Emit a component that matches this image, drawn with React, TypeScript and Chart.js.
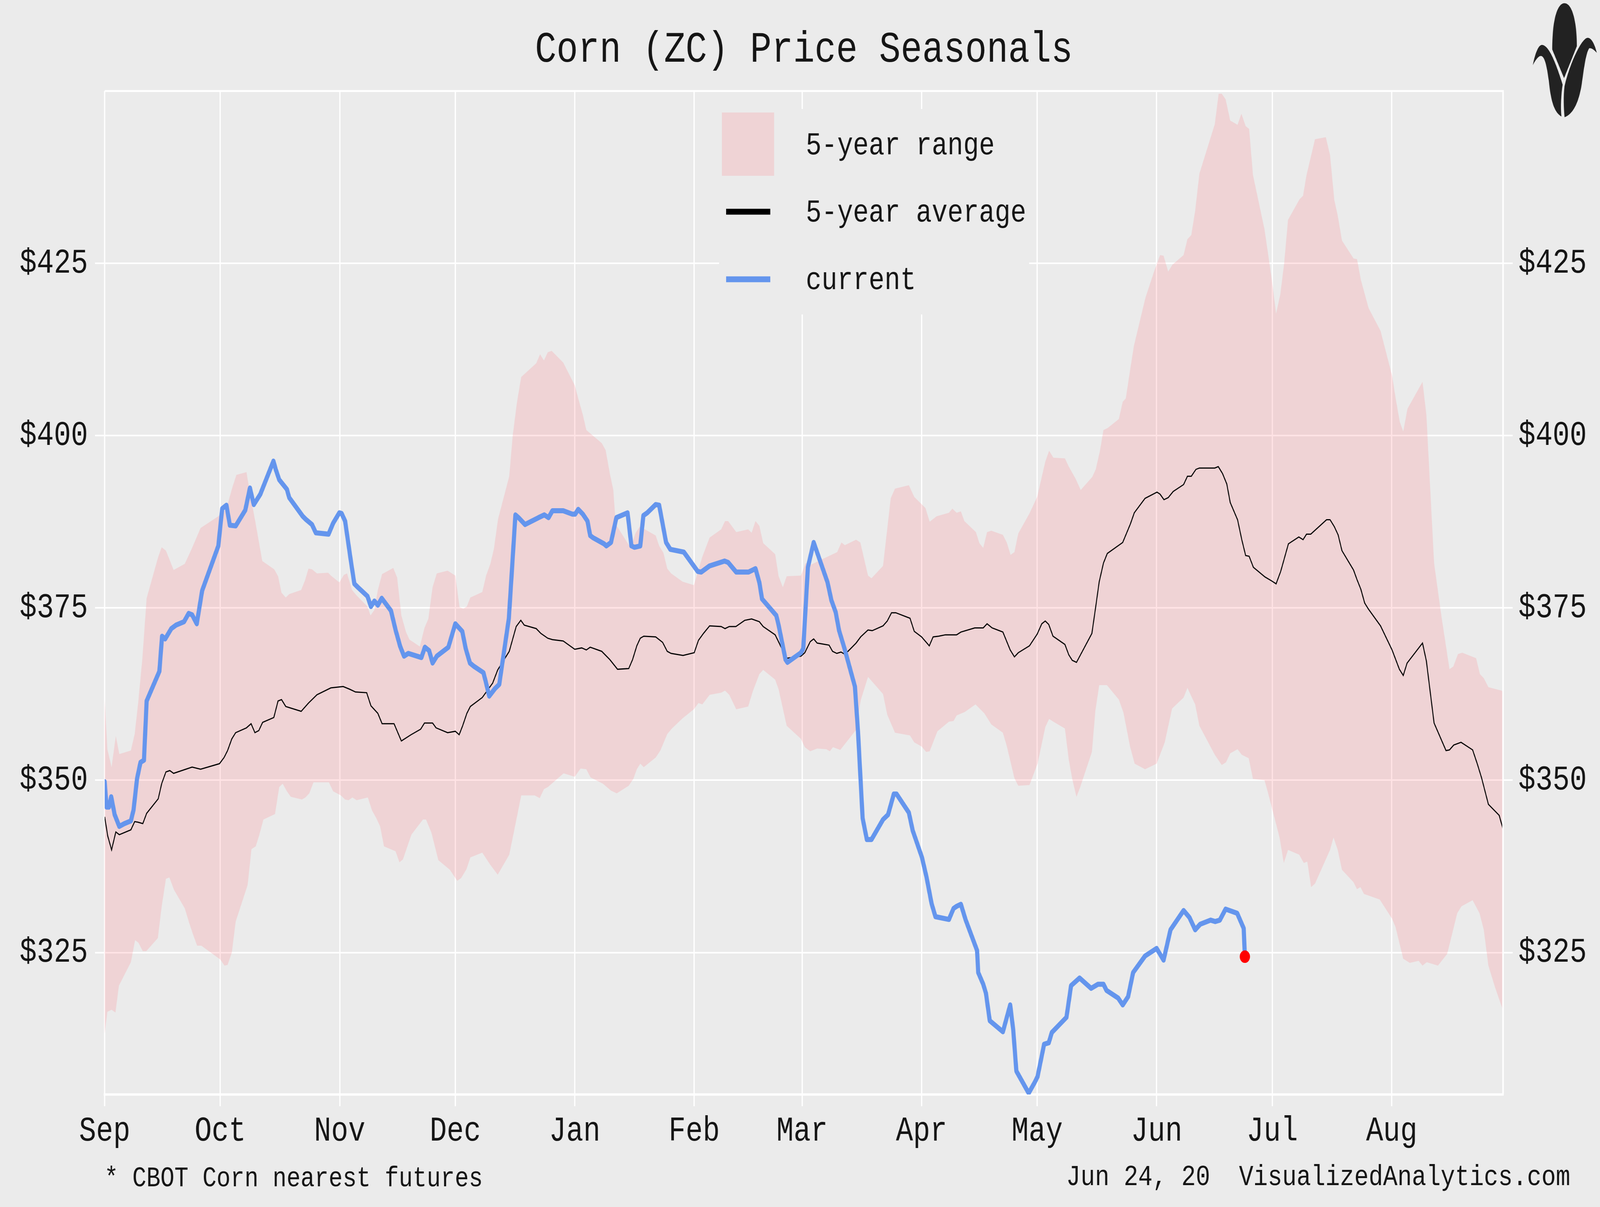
import React, { useEffect, useRef } from 'react';
import { Chart, registerables } from 'chart.js';

Chart.register(...registerables);

const W = 5000;
const H = 3090;
const FONT = "'Liberation Mono', 'Courier New', monospace";
const BG = '#ebebeb';
const BAND = 'rgba(255,115,125,0.2)';
const BLUE = '#6495ed';
const TEXT = '#151515';

const TITLE = 'Corn (ZC) Price Seasonals';
const FOOT_LEFT = '* CBOT Corn nearest futures';
const FOOT_RIGHT = 'Jun 24, 20  VisualizedAnalytics.com';
const LEGEND_LABELS = ['5-year range', '5-year average', 'current'];

// x axis: day of season (Sep 1 = 0)
const monthTicks = [0, 30, 61, 91, 122, 153, 181, 212, 242, 273, 303, 334];
const monthLabels = ['Sep', 'Oct', 'Nov', 'Dec', 'Jan', 'Feb', 'Mar', 'Apr', 'May', 'Jun', 'Jul', 'Aug'];
const xMin = 0;
const xMax = 362.9;

const yTicks = [325, 350, 375, 400, 425];
const yMin = 304.4;
const yMax = 450;

// [day, price]
const currentPoints: [number, number][] = [
  [0, 349.8], [0.5, 346.1], [1.1, 346.1], [1.7, 347.6], [2.6, 345.0], [3.8, 343.3], [5.1, 343.7], [6.8, 344.1],
  [7.5, 345.7], [8.4, 350.2], [9.3, 352.6], [10.2, 352.9], [10.9, 361.5], [14.2, 365.8], [14.9, 370.9], [15.7, 370.5],
  [17.3, 372.0], [18.5, 372.5], [20.6, 373.0], [21.8, 374.2], [22.7, 374.0], [23.9, 372.7], [25.3, 377.5], [29.5, 384.0],
  [30.5, 389.4], [31.6, 389.9], [32.5, 387.0], [34.0, 386.9], [36.5, 389.2], [37.7, 392.4], [38.7, 390.0], [40.4, 391.5],
  [43.8, 396.3], [44.4, 395.1], [45.3, 393.6], [47.3, 392.2], [47.9, 391.0], [51.4, 388.3], [52.3, 387.8], [53.8, 387.1],
  [54.8, 385.9], [58.1, 385.7], [59.3, 387.3], [60.9, 388.8], [61.5, 388.7], [62.4, 387.6], [63.9, 381.8], [64.8, 378.5],
  [65.7, 378.0], [68.2, 376.7], [69.1, 375.2], [70.0, 376.0], [70.9, 375.4], [71.9, 376.4], [74.3, 374.6], [75.5, 371.8],
  [76.7, 369.4], [77.7, 368.0], [78.8, 368.4], [82.2, 367.8], [83.1, 369.3], [84.2, 368.8], [85.1, 367.0], [86.2, 368.0],
  [89.2, 369.3], [91.0, 372.7], [92.8, 371.6], [93.7, 369.1], [94.8, 367.0], [95.9, 366.5], [98.3, 365.6], [98.9, 364.3],
  [99.8, 362.2], [101.3, 363.3], [102.4, 363.9], [104.9, 373.5], [106.6, 388.5], [107.4, 388.1], [109.1, 387.1], [112.6, 388.1],
  [114.1, 388.5], [115.2, 388.1], [116.2, 389.1], [119.0, 389.1], [121.4, 388.6], [122.1, 388.6], [122.9, 389.3], [124.1, 388.6],
  [125.3, 387.6], [126.0, 385.5], [126.7, 385.2], [129.6, 384.3], [130.2, 384.0], [131.4, 384.5], [132.8, 388.1], [135.7, 388.8],
  [136.7, 384.0], [137.5, 383.8], [139.0, 384.0], [139.8, 388.4], [140.8, 388.8], [143.0, 390.0], [143.9, 389.9], [145.7, 384.5],
  [146.8, 383.5], [150.3, 383.1], [153.9, 380.3], [154.8, 380.2], [157.0, 381.1], [160.9, 381.8], [161.8, 381.6], [163.9, 380.2],
  [167.1, 380.2], [168.9, 380.7], [169.9, 378.7], [170.6, 376.3], [174.3, 373.9], [174.9, 372.5], [176.7, 367.5], [177.2, 367.1],
  [180.7, 368.5], [181.3, 369.1], [182.5, 380.9], [184.0, 384.5], [187.6, 378.7], [188.6, 376.1], [189.7, 374.4], [190.6, 371.7],
  [191.9, 369.3], [194.7, 363.6], [195.5, 357.1], [196.7, 344.5], [197.8, 341.4], [199.0, 341.4], [202.0, 344.3], [203.3, 345.0],
  [204.8, 348.0], [205.5, 348.0], [208.7, 345.3], [209.7, 342.7], [212.1, 338.8], [213.3, 335.9], [214.6, 332.1], [215.6, 330.2],
  [219.1, 329.8], [220.3, 331.4], [221.1, 331.7], [222.2, 332.0], [223.4, 329.8], [226.4, 325.3], [226.7, 322.1], [228.0, 320.4],
  [228.7, 319.1], [229.7, 315.1], [233.1, 313.5], [235.0, 317.4], [235.8, 313.7], [236.6, 307.8], [239.8, 304.6], [241.4, 306.2],
  [242.1, 307.0], [243.8, 311.7], [245.0, 311.9], [245.8, 313.4], [249.6, 315.6], [250.8, 320.2], [253.0, 321.3], [256.0, 319.8],
  [257.8, 320.4], [259.2, 320.4], [260.0, 319.5], [263.0, 318.4], [264.2, 317.4], [265.6, 318.6], [266.9, 322.1], [270.0, 324.5],
  [273.0, 325.6], [274.8, 323.9], [276.6, 328.3], [280.0, 331.1], [281.5, 330.1], [283.0, 328.3], [284.3, 329.1], [287.0, 329.7],
  [288.2, 329.5], [289.4, 329.7], [290.9, 331.3], [293.9, 330.7], [295.6, 328.5], [295.9, 324.4],
];

const averagePoints: [number, number][] = [
  [0, 344.7], [0.8, 341.9], [1.8, 339.9], [2.9, 342.5], [3.8, 342.1], [6.8, 342.8], [7.8, 344.0], [8.7, 343.9],
  [9.9, 343.7], [10.9, 345.2], [13.9, 347.3], [14.8, 349.5], [15.9, 351.2], [16.9, 351.4], [17.9, 351.0], [22.7, 351.9],
  [24.9, 351.6], [29.8, 352.4], [31.0, 353.3], [31.9, 354.3], [33.0, 356.0], [34.0, 356.9], [36.8, 357.6], [38.0, 358.2],
  [39.0, 356.9], [40.0, 357.2], [41.0, 358.4], [43.9, 359.1], [45.0, 361.5], [45.9, 361.7], [47.0, 360.7], [51.0, 360.0],
  [52.9, 361.2], [55.1, 362.4], [58.7, 363.4], [61.9, 363.6], [63.6, 363.2], [65.1, 362.8], [68.0, 362.7], [69.1, 360.8],
  [70.9, 359.7], [72.0, 358.2], [75.1, 358.2], [77.0, 355.7], [79.5, 356.6], [82.0, 357.4], [83.0, 358.3], [85.1, 358.3],
  [86.0, 357.6], [89.0, 356.9], [91.0, 357.1], [92.0, 356.6], [92.9, 357.9], [94.0, 359.7], [94.9, 360.7], [98.0, 362.0],
  [100.7, 364.1], [102.0, 366.0], [105.0, 368.7], [106.8, 372.3], [108.0, 373.2], [108.9, 372.5], [112.0, 372.0], [113.2, 371.3],
  [115.0, 370.6], [116.2, 370.4], [119.0, 370.2], [122.0, 369.0], [123.8, 369.2], [125.0, 368.9], [126.0, 369.3], [129.0, 368.7],
  [131.1, 367.5], [133.1, 366.1], [136.0, 366.2], [137.0, 367.5], [138.1, 369.5], [139.0, 370.6], [139.9, 370.9], [143.0, 370.8],
  [144.8, 370.0], [146.0, 368.7], [147.0, 368.4], [150.1, 368.1], [153.0, 368.5], [154.1, 370.3], [155.4, 371.3], [157.0, 372.4],
  [160.0, 372.3], [161.0, 372.0], [162.1, 372.3], [163.8, 372.3], [166.1, 373.2], [167.9, 373.4], [169.9, 373.0], [170.9, 372.3],
  [174.0, 371.1], [175.4, 369.5], [177.0, 367.7], [180.7, 368.0], [181.7, 368.5], [183.1, 370.1], [184.0, 370.5], [184.9, 369.9],
  [188.0, 369.6], [188.9, 368.7], [190.0, 368.4], [191.1, 368.6], [192.0, 368.3], [192.9, 368.7], [195.0, 369.9], [196.2, 370.8],
  [198.1, 371.8], [199.2, 371.7], [202.0, 372.4], [203.1, 373.1], [204.2, 374.3], [205.3, 374.3], [209.0, 373.5], [210.1, 371.6],
  [212.0, 370.8], [214.0, 369.5], [215.0, 370.8], [216.4, 370.9], [218.2, 371.1], [221.1, 371.1], [222.2, 371.5], [225.8, 372.1],
  [228.0, 372.1], [229.0, 372.7], [230.3, 372.1], [233.1, 371.5], [235.0, 368.9], [236.1, 367.9], [237.1, 368.5], [240.0, 369.5],
  [242.0, 371.2], [243.2, 372.7], [244.1, 373.1], [245.0, 372.6], [246.1, 370.9], [249.2, 369.7], [250.2, 368.2], [251.1, 367.4],
  [252.2, 367.1], [256.2, 371.3], [257.2, 375.2], [258.1, 378.8], [259.2, 381.5], [260.2, 382.9], [264.2, 384.5], [266.2, 387.2],
  [267.2, 388.8], [270.0, 390.9], [273.1, 391.8], [273.9, 391.5], [274.9, 390.7], [276.0, 391.0], [277.3, 391.9], [280.0, 392.9],
  [281.0, 394.1], [282.0, 394.1], [283.2, 395.1], [284.1, 395.3], [288.1, 395.3], [289.0, 395.5], [290.1, 394.5], [291.2, 393.0],
  [292.1, 390.3], [294.0, 387.8], [295.1, 384.9], [296.1, 382.6], [297.0, 382.5], [298.1, 380.9], [301.1, 379.5], [302.9, 378.9],
  [304.0, 378.5], [305.2, 380.3], [307.2, 384.3], [309.9, 385.3], [311.0, 384.9], [311.9, 385.7], [313.0, 385.7], [317.1, 387.8],
  [318.0, 387.8], [319.1, 386.8], [320.1, 385.6], [321.1, 383.3], [324.1, 380.5], [325.0, 379.1], [326.0, 377.7], [327.0, 375.7],
  [328.0, 374.8], [331.1, 372.4], [334.1, 368.9], [336.0, 366.1], [337.0, 365.2], [338.0, 367.0], [342.0, 369.9], [343.0, 367.3],
  [344.0, 362.8], [345.0, 358.3], [348.1, 354.3], [349.0, 354.4], [350.1, 355.1], [352.0, 355.5], [355.0, 354.4], [356.2, 352.4],
  [357.3, 350.4], [359.1, 346.5], [361.9, 344.9], [362.9, 342.9],
];

const rangeHighPoints: [number, number][] = [
  [0, 361.8], [0.7, 354.5], [1.8, 351.9], [2.9, 356.4], [3.8, 353.8], [6.8, 354.3], [7.8, 356.7], [8.7, 361.2],
  [9.8, 367.7], [10.9, 376.4], [13.9, 382.4], [14.8, 383.8], [15.9, 383.3], [17.9, 380.5], [20.8, 381.4], [22.7, 383.7],
  [24.9, 386.6], [29.5, 388.3], [31.6, 389.4], [33.1, 392.4], [34.2, 394.3], [36.8, 394.7], [37.7, 391.7], [39.1, 387.5],
  [40.9, 381.8], [44.0, 380.6], [45.0, 379.6], [45.9, 377.2], [47.0, 376.5], [47.9, 377.0], [51.0, 377.6], [52.0, 379.0],
  [52.9, 380.7], [53.8, 380.6], [55.1, 380.0], [58.0, 380.1], [58.7, 379.7], [60.9, 378.7], [62.1, 379.8], [62.9, 380.0],
  [64.2, 377.6], [65.4, 376.8], [68.2, 375.2], [69.0, 373.9], [70.0, 374.7], [70.9, 377.6], [72.0, 379.9], [74.9, 380.8],
  [75.9, 379.4], [77.0, 373.9], [78.2, 371.5], [79.1, 370.4], [81.8, 369.4], [83.0, 372.1], [84.0, 373.4], [85.1, 378.0],
  [86.2, 380.0], [89.0, 380.4], [91.0, 379.7], [92.1, 375.1], [93.1, 374.9], [94.0, 375.2], [94.9, 376.5], [98.0, 377.3],
  [99.0, 379.7], [100.1, 381.4], [101.0, 383.5], [102.1, 387.9], [105.0, 394.1], [105.9, 400.0], [107.0, 404.8], [108.1, 408.5],
  [112.0, 410.5], [113.0, 411.8], [114.0, 410.9], [115.0, 412.1], [116.0, 412.3], [119.0, 410.6], [122.0, 407.3], [122.9, 405.4],
  [124.1, 403.0], [125.0, 400.8], [129.0, 398.9], [130.0, 397.9], [131.1, 394.5], [132.0, 392.1], [132.6, 387.3], [132.9, 386.9],
  [136.5, 383.7], [137.8, 385.9], [138.9, 386.8], [143.0, 385.5], [143.9, 384.0], [145.0, 383.0], [146.0, 380.7], [147.0, 380.0],
  [150.0, 378.8], [152.9, 378.3], [153.6, 379.6], [155.1, 382.4], [157.0, 385.2], [160.0, 386.4], [161.0, 387.6], [161.8, 387.6],
  [163.9, 386.0], [167.0, 386.4], [167.9, 385.9], [168.9, 387.6], [169.9, 386.9], [170.9, 384.4], [174.0, 382.8], [174.9, 379.6],
  [176.0, 378.0], [177.0, 379.6], [180.7, 379.7], [181.9, 381.5], [183.4, 381.3], [184.9, 381.7], [187.1, 382.3], [190.1, 383.1],
  [191.2, 384.5], [192.1, 384.1], [195.0, 384.9], [196.1, 384.5], [198.1, 379.7], [199.0, 379.3], [202.0, 381.1], [204.0, 390.9],
  [205.1, 392.3], [208.7, 392.8], [210.1, 391.1], [213.0, 389.5], [214.1, 387.5], [215.9, 388.3], [219.1, 388.8], [220.0, 389.4],
  [221.1, 388.8], [222.2, 389.0], [223.1, 387.6], [226.1, 386.0], [227.0, 384.4], [228.0, 383.7], [229.0, 386.0], [230.1, 386.2],
  [233.1, 385.6], [234.1, 384.5], [235.1, 382.7], [236.1, 383.1], [237.1, 385.8], [240.0, 388.7], [242.0, 391.1], [244.1, 396.2],
  [245.1, 397.8], [246.2, 396.8], [249.2, 396.7], [250.2, 395.5], [252.0, 393.7], [253.3, 392.1], [256.3, 394.0], [257.2, 395.1],
  [258.3, 397.8], [259.2, 400.8], [260.3, 401.1], [263.2, 402.4], [264.2, 404.9], [265.0, 405.4], [266.2, 409.8], [267.1, 413.0],
  [270.1, 420.0], [272.4, 423.9], [273.9, 426.2], [274.8, 426.1], [276.0, 423.8], [277.1, 424.8], [280.0, 426.2], [281.0, 428.5],
  [282.0, 429.1], [283.0, 432.6], [284.1, 438.0], [288.1, 445.2], [289.1, 449.6], [289.9, 449.6], [290.9, 448.8], [292.1, 445.7],
  [294.0, 445.1], [295.0, 446.7], [296.1, 444.9], [297.0, 444.5], [298.0, 437.8], [301.0, 429.9], [302.9, 422.6], [304.0, 417.7],
  [305.1, 420.5], [306.1, 425.0], [307.1, 431.3], [310.1, 434.3], [311.0, 434.8], [311.9, 437.8], [313.0, 440.4], [314.1, 443.0],
  [316.9, 443.3], [318.0, 440.7], [319.1, 434.2], [320.0, 431.9], [321.1, 428.3], [324.1, 425.7], [325.0, 425.6], [326.0, 422.6],
  [328.0, 418.5], [331.1, 415.2], [334.1, 408.7], [335.0, 405.5], [336.1, 402.0], [337.0, 400.6], [338.1, 403.9], [341.7, 407.5],
  [342.0, 407.8], [343.0, 403.0], [345.0, 381.5], [346.9, 373.8], [349.0, 366.1], [350.0, 366.5], [351.2, 368.3], [352.3, 368.5],
  [355.9, 367.7], [356.9, 365.4], [357.9, 364.8], [359.1, 363.5], [362.5, 363.0], [362.9, 362.8],
];

const rangeLowPoints: [number, number][] = [
  [0, 313.2], [0.7, 316.4], [1.8, 316.7], [2.8, 316.3], [3.7, 320.2], [6.8, 323.6], [7.9, 326.8], [8.8, 326.4],
  [9.9, 325.2], [10.8, 325.2], [13.8, 327.1], [14.8, 331.7], [15.9, 335.7], [16.8, 335.9], [18.0, 334.1], [20.8, 331.4],
  [22.0, 329.2], [22.9, 327.7], [24.0, 326.0], [25.1, 326.0], [30.0, 324.0], [31.1, 323.1], [31.9, 323.2], [33.0, 325.0],
  [34.0, 329.5], [37.1, 334.8], [38.1, 340.0], [39.2, 340.4], [40.1, 342.0], [41.2, 344.3], [44.2, 345.1], [45.3, 349.0],
  [46.2, 349.5], [47.3, 348.4], [48.3, 347.6], [51.2, 347.2], [52.1, 347.5], [53.1, 348.1], [54.2, 349.7], [58.2, 349.7],
  [59.3, 348.4], [61.3, 347.8], [62.4, 347.2], [63.3, 347.1], [64.3, 347.5], [65.4, 347.1], [68.3, 347.5], [69.4, 345.6],
  [70.5, 344.5], [71.5, 343.3], [72.5, 340.4], [75.5, 339.7], [76.5, 338.1], [77.4, 338.5], [79.6, 342.1], [82.6, 344.3],
  [83.4, 344.3], [84.8, 342.4], [86.6, 338.4], [89.6, 337.0], [91.5, 335.4], [92.5, 335.8], [93.9, 337.1], [94.9, 338.8],
  [98.0, 339.5], [100.0, 337.8], [102.0, 336.3], [105.0, 339.2], [107.1, 345.0], [108.1, 347.8], [111.6, 347.8], [112.9, 347.4],
  [114.0, 348.7], [115.0, 349.0], [119.1, 351.0], [122.0, 350.5], [123.5, 351.7], [125.0, 351.6], [126.1, 350.4], [129.3, 349.5],
  [131.4, 348.5], [132.9, 348.1], [136.0, 349.2], [137.2, 350.2], [138.1, 351.6], [139.0, 352.4], [139.9, 351.9], [143.0, 353.3],
  [144.2, 354.3], [146.0, 356.7], [147.2, 357.5], [150.0, 359.0], [152.9, 360.3], [154.1, 361.2], [155.1, 361.0], [157.0, 362.4],
  [160.0, 362.7], [161.0, 363.0], [162.1, 362.4], [163.9, 360.3], [167.0, 360.7], [168.2, 362.9], [169.9, 365.4], [170.9, 366.0],
  [174.0, 364.6], [174.9, 363.2], [177.0, 357.9], [180.7, 356.0], [181.7, 354.8], [183.1, 354.2], [184.9, 354.6], [187.3, 354.5],
  [188.2, 354.2], [189.0, 354.8], [190.9, 354.4], [195.0, 357.3], [196.2, 361.6], [198.1, 365.0], [202.0, 362.5], [203.1, 359.5],
  [205.1, 356.9], [209.0, 356.5], [210.1, 355.5], [212.0, 354.9], [213.2, 354.1], [214.1, 354.2], [216.1, 357.1], [219.1, 358.5],
  [220.3, 358.6], [221.1, 359.4], [223.2, 359.9], [226.0, 361.0], [228.3, 359.7], [230.1, 358.1], [233.1, 356.9], [234.1, 355.0],
  [236.1, 350.3], [237.1, 349.2], [240.0, 349.3], [242.1, 352.4], [244.1, 357.7], [245.1, 358.9], [246.2, 358.5], [249.2, 357.5],
  [250.2, 353.0], [251.1, 350.2], [252.2, 347.6], [253.1, 348.9], [256.2, 354.1], [257.1, 360.1], [258.1, 363.8], [260.1, 363.8],
  [263.2, 361.7], [264.4, 359.8], [266.1, 354.9], [267.3, 352.4], [270.0, 351.6], [273.0, 352.4], [275.1, 355.5], [277.0, 360.4],
  [280.0, 362.0], [281.0, 363.4], [282.0, 362.2], [283.0, 361.0], [284.1, 357.9], [288.1, 353.7], [289.9, 352.2], [291.0, 352.6],
  [292.1, 353.9], [294.0, 354.5], [295.1, 353.7], [296.9, 353.2], [298.0, 350.2], [301.0, 350.0], [301.9, 348.2], [304.9, 341.7],
  [306.0, 338.0], [307.1, 339.9], [310.0, 339.2], [311.2, 338.0], [312.1, 338.2], [313.1, 334.5], [314.1, 335.0], [318.0, 339.9],
  [318.9, 341.7], [320.0, 339.9], [321.1, 337.0], [324.1, 335.2], [325.0, 334.2], [325.9, 334.5], [326.8, 333.5], [330.9, 332.7],
  [334.1, 329.9], [335.0, 328.7], [337.0, 324.1], [338.7, 323.5], [341.0, 323.8], [342.0, 323.1], [343.1, 323.6], [346.0, 323.1],
  [348.4, 324.8], [351.0, 330.7], [352.1, 331.7], [355.0, 332.6], [356.8, 330.7], [357.9, 328.3], [359.1, 323.1], [360.8, 320.0],
  [362.9, 316.6],
];

function drawLogo(ctx: CanvasRenderingContext2D) {
  const P = (x: number, y: number): [number, number] => [4700 + x / 3, y / 3];
  ctx.save();
  ctx.fillStyle = '#222222';
  ctx.beginPath();
  ctx.moveTo(...P(452, 380));
  ctx.bezierCurveTo(...P(452, 150), ...P(500, 25), ...P(567, 25));
  ctx.bezierCurveTo(...P(640, 25), ...P(683, 170), ...P(683, 355));
  ctx.lineTo(...P(563, 600));
  ctx.closePath();
  ctx.fill();
  ctx.beginPath();
  ctx.moveTo(...P(270, 500));
  ctx.bezierCurveTo(...P(290, 420), ...P(320, 345), ...P(355, 345));
  ctx.bezierCurveTo(...P(410, 345), ...P(470, 440), ...P(550, 650));
  ctx.bezierCurveTo(...P(535, 720), ...P(530, 820), ...P(538, 895));
  ctx.bezierCurveTo(...P(470, 860), ...P(440, 780), ...P(420, 620));
  ctx.bezierCurveTo(...P(400, 500), ...P(380, 430), ...P(345, 430));
  ctx.bezierCurveTo(...P(320, 430), ...P(290, 470), ...P(270, 500));
  ctx.closePath();
  ctx.fill();
  ctx.beginPath();
  ctx.moveTo(...P(870, 405));
  ctx.bezierCurveTo(...P(850, 340), ...P(820, 290), ...P(785, 290));
  ctx.bezierCurveTo(...P(730, 290), ...P(620, 480), ...P(568, 660));
  ctx.bezierCurveTo(...P(555, 740), ...P(560, 830), ...P(568, 900));
  ctx.bezierCurveTo(...P(640, 880), ...P(700, 800), ...P(730, 640));
  ctx.bezierCurveTo(...P(750, 520), ...P(770, 400), ...P(800, 370));
  ctx.bezierCurveTo(...P(830, 370), ...P(850, 390), ...P(870, 405));
  ctx.closePath();
  ctx.fill();
  ctx.restore();
}

const decorPlugin = {
  id: 'decor',
  beforeDraw(chart: any) {
    const ctx = chart.ctx as CanvasRenderingContext2D;
    ctx.save();
    ctx.fillStyle = BG;
    ctx.fillRect(0, 0, chart.width, chart.height);
    ctx.restore();
  },
  afterDraw(chart: any) {
    const ctx = chart.ctx as CanvasRenderingContext2D;
    const a = chart.chartArea;
    ctx.save();
    // panel top and right borders
    ctx.strokeStyle = '#ffffff';
    ctx.lineWidth = 5;
    ctx.beginPath();
    ctx.moveTo(a.left, a.top);
    ctx.lineTo(a.right, a.top);
    ctx.lineTo(a.right, a.bottom);
    ctx.stroke();

    // title
    ctx.fillStyle = TEXT;
    ctx.font = `112px ${FONT}`;
    ctx.textAlign = 'center';
    ctx.textBaseline = 'alphabetic';
    ctx.fillText(TITLE, (a.left + a.right) / 2, 158);

    // legend
    ctx.fillStyle = BG;
    ctx.fillRect(2247, 279, 969, 526);
    ctx.fillStyle = BAND;
    ctx.fillRect(2256, 288, 163, 162);
    ctx.lineCap = 'butt';
    ctx.lineWidth = 15;
    ctx.strokeStyle = '#000000';
    ctx.beginPath();
    ctx.moveTo(2269, 542);
    ctx.lineTo(2407, 542);
    ctx.stroke();
    ctx.strokeStyle = BLUE;
    ctx.beginPath();
    ctx.moveTo(2269, 715);
    ctx.lineTo(2407, 715);
    ctx.stroke();
    ctx.fillStyle = TEXT;
    ctx.font = `82px ${FONT}`;
    ctx.textAlign = 'left';
    ctx.fillText(LEGEND_LABELS[0], 2518, 395);
    ctx.fillText(LEGEND_LABELS[1], 2518, 567);
    ctx.fillText(LEGEND_LABELS[2], 2518, 740);

    // footer
    ctx.font = `73px ${FONT}`;
    ctx.textAlign = 'left';
    ctx.fillText(FOOT_LEFT, 326, 3037);
    ctx.font = `75px ${FONT}`;
    ctx.textAlign = 'right';
    ctx.fillText(FOOT_RIGHT, 4907, 3034);
    ctx.restore();

    drawLogo(ctx);
  },
};

export default function App() {
  const ref = useRef<HTMLCanvasElement | null>(null);

  // The browser may clamp the window below 5000px; show the whole chart inside the viewport.
  const vw = typeof window !== 'undefined' && window.innerWidth ? window.innerWidth : W;
  const vh = typeof window !== 'undefined' && window.innerHeight ? window.innerHeight : H;
  const sx = Math.min(1, vw / W);
  const sy = Math.min(1, vh / H);

  useEffect(() => {
    document.body.style.margin = '0';
    document.body.style.overflow = 'hidden';
    document.body.style.background = BG;
    const canvas = ref.current;
    if (!canvas) return;
    const toXY = (pts: [number, number][]) => pts.map(([x, y]) => ({ x, y }));
    const last = currentPoints[currentPoints.length - 1];
    const tickFont = { family: FONT, size: 89 };

    const chart = new Chart(canvas, {
      type: 'line',
      data: {
        datasets: [
          {
            label: 'last',
            data: [{ x: last[0], y: last[1] }],
            showLine: false,
            pointRadius: 16,
            pointBackgroundColor: '#ff0000',
            pointBorderWidth: 0,
            order: 0,
          },
          {
            label: 'current',
            data: toXY(currentPoints),
            borderColor: BLUE,
            borderWidth: 13,
            borderJoinStyle: 'round',
            borderCapStyle: 'round',
            pointRadius: 0,
            fill: false,
            order: 1,
          },
          {
            label: '5-year average',
            data: toXY(averagePoints),
            borderColor: '#000000',
            borderWidth: 3,
            pointRadius: 0,
            fill: false,
            order: 2,
          },
          {
            label: '5-year range',
            data: toXY(rangeHighPoints),
            borderColor: 'rgba(0,0,0,0)',
            borderWidth: 1,
            backgroundColor: BAND,
            pointRadius: 0,
            fill: { target: 4 },
            order: 3,
          },
          {
            label: 'range low',
            data: toXY(rangeLowPoints),
            borderColor: 'rgba(0,0,0,0)',
            borderWidth: 1,
            pointRadius: 0,
            fill: false,
            order: 4,
          },
        ],
      },
      options: {
        animation: false,
        responsive: false,
        maintainAspectRatio: false,
        devicePixelRatio: 1,
        layout: { padding: { top: 233, left: 0, right: 0, bottom: 0 } },
        elements: { line: { tension: 0 } },
        plugins: {
          legend: { display: false },
          title: { display: false },
          tooltip: { enabled: false },
        },
        scales: {
          x: {
            type: 'linear',
            position: 'bottom',
            min: xMin,
            max: xMax,
            afterBuildTicks: (s: any) => {
              s.ticks = monthTicks.map((v) => ({ value: v }));
            },
            afterFit: (s: any) => {
              s.height = H - 2802;
            },
            ticks: {
              autoSkip: false,
              maxRotation: 0,
              minRotation: 0,
              padding: 11,
              color: TEXT,
              font: tickFont,
              callback: (_v: any, i: number) => monthLabels[i],
            },
            grid: { color: '#ffffff', lineWidth: 4, tickLength: 30, drawTicks: true },
            border: { display: true, color: '#ffffff', width: 6 },
          },
          y: {
            type: 'linear',
            position: 'left',
            min: yMin,
            max: yMax,
            afterBuildTicks: (s: any) => {
              s.ticks = yTicks.map((v) => ({ value: v }));
            },
            afterFit: (s: any) => {
              s.width = 327;
            },
            ticks: {
              padding: 22,
              color: TEXT,
              font: tickFont,
              callback: (v: any) => '$' + v,
            },
            grid: { color: '#ffffff', lineWidth: 4, tickLength: 30, drawTicks: true },
            border: { display: false },
          },
          y2: {
            type: 'linear',
            position: 'right',
            min: yMin,
            max: yMax,
            afterBuildTicks: (s: any) => {
              s.ticks = yTicks.map((v) => ({ value: v }));
            },
            afterFit: (s: any) => {
              s.width = W - 4697;
            },
            ticks: {
              padding: 18,
              color: TEXT,
              font: tickFont,
              callback: (v: any) => '$' + v,
            },
            grid: { drawOnChartArea: false, color: '#ffffff', lineWidth: 4, tickLength: 30, drawTicks: true },
            border: { display: false },
          },
        },
      } as any,
      plugins: [decorPlugin],
    });

    return () => chart.destroy();
  }, []);

  return (
    <canvas
      ref={ref}
      width={W}
      height={H}
      style={{ display: 'block', width: `${W * sx}px`, height: `${H * sy}px` }}
    />
  );
}
